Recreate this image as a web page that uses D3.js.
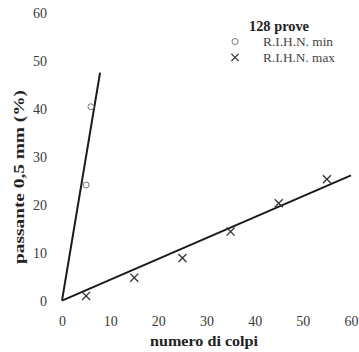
<!DOCTYPE html>
<html>
<head>
<meta charset="utf-8">
<script src="https://cdn.jsdelivr.net/npm/d3@7/dist/d3.min.js"></script>
<style>
  html, body { margin: 0; padding: 0; background: #fff; }
  svg { display: block; }
  text { font-family: "Liberation Serif", "DejaVu Serif", serif; }
</style>
</head>
<body>
<svg id="chart" width="359" height="352"></svg>
<script>
// Tick values on both axes
const xTicks = [0, 10, 20, 30, 40, 50, 60];
const yTicks = [0, 10, 20, 30, 40, 50, 60];

// R.I.H.N. min: number of blows vs passing 0.5 mm (%)
const minBlows = [5, 6];
const minPass = [24.1, 40.4];

// R.I.H.N. max
const maxBlows = [5, 15, 25, 35, 45, 55];
const maxPass = [1.0, 4.8, 8.9, 14.4, 20.3, 25.3];

// Fitted lines through the origin (start and end points)
const fitMinX = [0, 7.9];
const fitMinY = [0, 47.5];
const fitMaxX = [0, 60];
const fitMaxY = [0, 26.1];

const legendTitle = "128 prove";
const legendLabels = ["R.I.H.N. min", "R.I.H.N. max"];

const svg = d3.select("#chart");

const x = d3.scaleLinear().domain([0, 60]).range([62, 351]);
const y = d3.scaleLinear().domain([0, 60]).range([300.7, 12.7]);

const tickColor = "#3a3a3a";

// Y tick labels (no axis line drawn)
const yAxis = d3.axisLeft(y).tickValues(yTicks).tickSize(0).tickPadding(0);
const gy = svg.append("g").attr("transform", "translate(47,0)").call(yAxis);
gy.select(".domain").remove();
gy.selectAll("text")
  .attr("fill", tickColor)
  .style("font-size", "14px")
  .style("font-family", "'Liberation Serif', serif");

// X tick labels
const xAxis = d3.axisBottom(x).tickValues(xTicks).tickSize(0).tickPadding(0);
const gx = svg.append("g").attr("transform", "translate(0,316)").call(xAxis);
gx.select(".domain").remove();
gx.selectAll("text")
  .attr("fill", tickColor)
  .style("font-size", "14px")
  .style("font-family", "'Liberation Serif', serif");

// Axis titles
svg.append("text")
  .attr("x", 204).attr("y", 346)
  .attr("text-anchor", "middle")
  .attr("font-weight", "bold")
  .attr("font-size", 15)
  .attr("fill", "#222")
  .attr("textLength", 108)
  .attr("lengthAdjust", "spacingAndGlyphs")
  .text("numero di colpi");

svg.append("text")
  .attr("transform", "translate(24,177) rotate(-90)")
  .attr("text-anchor", "middle")
  .attr("font-weight", "bold")
  .attr("font-size", 15)
  .attr("fill", "#222")
  .attr("textLength", 174)
  .attr("lengthAdjust", "spacingAndGlyphs")
  .text("passante 0,5 mm (%)");

// Fitted lines
const line = d3.line().x(d => x(d[0])).y(d => y(d[1]));
svg.append("path")
  .datum(d3.zip(fitMinX, fitMinY))
  .attr("d", line)
  .attr("fill", "none")
  .attr("stroke", "#1a1a1a")
  .attr("stroke-width", 2);
svg.append("path")
  .datum(d3.zip(fitMaxX, fitMaxY))
  .attr("d", line)
  .attr("fill", "none")
  .attr("stroke", "#1a1a1a")
  .attr("stroke-width", 2);

// Circle markers (min)
svg.append("g").selectAll("circle")
  .data(d3.zip(minBlows, minPass))
  .join("circle")
  .attr("cx", d => x(d[0]))
  .attr("cy", d => y(d[1]))
  .attr("r", 3)
  .attr("fill", "#fff")
  .attr("stroke", "#777")
  .attr("stroke-width", 1);

// Cross markers (max)
const cross = d3.symbol().type(d3.symbolX).size(44);
svg.append("g").selectAll("path")
  .data(d3.zip(maxBlows, maxPass))
  .join("path")
  .attr("transform", d => `translate(${x(d[0])},${y(d[1])})`)
  .attr("d", cross)
  .attr("fill", "none")
  .attr("stroke", "#333")
  .attr("stroke-width", 1.3);

// Legend
const lg = svg.append("g");
lg.append("text")
  .attr("x", 279).attr("y", 31)
  .attr("text-anchor", "middle")
  .attr("font-weight", "bold")
  .attr("font-size", 14)
  .attr("fill", "#222")
  .attr("textLength", 60)
  .attr("lengthAdjust", "spacingAndGlyphs")
  .text(legendTitle);

lg.append("circle")
  .attr("cx", 235).attr("cy", 41.5)
  .attr("r", 3)
  .attr("fill", "#fff")
  .attr("stroke", "#777")
  .attr("stroke-width", 1);
lg.append("path")
  .attr("transform", "translate(235,57.5)")
  .attr("d", d3.symbol().type(d3.symbolX).size(36))
  .attr("fill", "none")
  .attr("stroke", "#333")
  .attr("stroke-width", 1.3);

lg.selectAll("text.item")
  .data(legendLabels)
  .join("text")
  .attr("class", "item")
  .attr("x", 263)
  .attr("y", (d, i) => 45.5 + i * 16)
  .attr("font-size", 13)
  .attr("fill", "#444")
  .attr("textLength", (d, i) => i === 0 ? 70 : 72)
  .attr("lengthAdjust", "spacingAndGlyphs")
  .text(d => d);
</script>
</body>
</html>
